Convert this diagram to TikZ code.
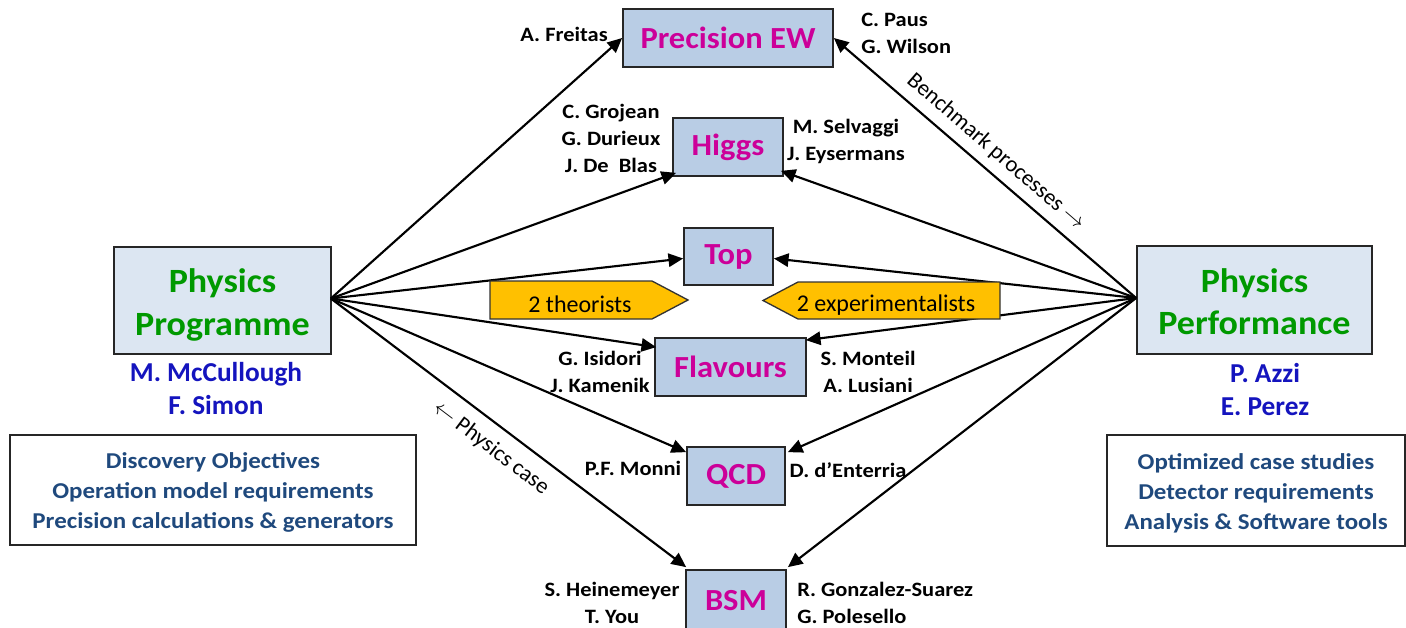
\documentclass[tikz,border=0pt]{standalone}
\usepackage{fontspec}
\setmainfont{Carlito}
\newfontfamily\namefont{Carlito}[FakeStretch=1.1]
\newfontfamily\infofont{Carlito}[FakeStretch=1.1]
\newfontfamily\titlefont{Carlito}[FakeStretch=1.06]
\usetikzlibrary{arrows.meta,calc}

\definecolor{topicfill}{RGB}{185,205,229}
\definecolor{groupfill}{RGB}{220,230,242}
\definecolor{topictext}{RGB}{204,0,153}
\definecolor{grouptext}{RGB}{0,153,0}
\definecolor{leadtext}{RGB}{20,20,190}
\definecolor{infotext}{RGB}{31,73,125}
\definecolor{tagfill}{RGB}{255,192,0}

% centred lines, with a taller first row to set them a little lower in their box
\newcommand{\grouptitle}[2]{\begin{tabular}{@{}c@{}}\rule{0pt}{30pt}#1\\#2\end{tabular}}
\newcommand{\remit}[3]{\begin{tabular}{@{}c@{}}\rule{0pt}{19.5pt}#1\\#2\\#3\end{tabular}}

\tikzset{
  topic/.style={draw=black!85, line width=1.3pt, fill=topicfill, text=topictext,
    font=\titlefont\bfseries\fontsize{23}{28}\selectfont, inner sep=0pt},
  group/.style={draw=black!85, line width=1.3pt, fill=groupfill, text=grouptext,
    font=\titlefont\bfseries\fontsize{25.5}{32}\selectfont, inner sep=0pt},
  person/.style={font=\namefont\bfseries\fontsize{15.3}{20.25}\selectfont, align=center, inner sep=0pt},
  lead/.style={text=leadtext, font=\bfseries\fontsize{20.5}{24.75}\selectfont, align=center, inner sep=0pt},
  info/.style={draw=black!85, line width=1.2pt, fill=white, text=infotext,
    font=\infofont\bfseries\fontsize{17}{22.5}\selectfont, inner sep=0pt},
  flow/.style={-{Triangle[length=11pt,width=10pt]}, line width=1.6pt},
  tag/.style={draw=black!80, line width=1pt, fill=tagfill},
  tagtext/.style={font=\fontsize{18}{22}\selectfont, inner sep=0pt},
  note/.style={font=\fontsize{17}{20}\selectfont, inner sep=0pt}
}

\begin{document}
\begin{tikzpicture}[x=0.75pt, y=-0.75pt]
\useasboundingbox (0,0) rectangle (1406,628);

% working groups
\node[topic, minimum width=157.5pt, minimum height=43.5pt] (ew)    at (728,38)    {Precision EW};
\node[topic, minimum width=82.5pt,  minimum height=43.5pt] (higgs) at (728,147)   {Higgs};
\node[topic, minimum width=66.75pt, minimum height=42.75pt] (top)  at (728.5,256.5) {Top};
\node[topic, minimum width=113.25pt, minimum height=43.5pt] (flav) at (730.5,367) {Flavours};
\node[topic, minimum width=73.5pt,  minimum height=43.5pt] (qcd)   at (736,476)   {QCD};
\node[topic, minimum width=75pt,    minimum height=46.5pt] (bsm)   at (736,601)   {BSM};

% the two coordinating groups
\node[group, minimum width=162.75pt, minimum height=80.25pt] (prog) at (222.5,300.5) {\grouptitle{Physics}{Programme}};
\node[group, minimum width=176.25pt, minimum height=81pt]    (perf) at (1254.5,300) {\grouptitle{Physics}{Performance}};

\coordinate (progout) at ($(prog.east)+(-1,-2)$);
\coordinate (perfout) at ($(perf.west)+(0,-2)$);

% connectors from Physics Programme
\draw[flow] (progout) -- (ew.west);
\draw[flow] (progout) -- ($(higgs.south west)+(4,-4)$);
\draw[flow] (progout) -- ($(top.west)+(0,2)$);
\draw[flow] (progout) -- ($(flav.north west)+(2,10)$);
\draw[flow] (progout) -- ($(qcd.north west)+(0,6)$);
\draw[flow] (progout) -- ($(bsm.north west)+(1,-2)$);

% connectors from Physics Performance
\draw[flow] (perfout) -- (ew.east);
\draw[flow] (perfout) -- ($(higgs.south east)+(-3,-6)$);
\draw[flow] (perfout) -- ($(top.east)+(0,2)$);
\draw[flow] (perfout) -- ($(flav.north east)+(-1,3)$);
\draw[flow] (perfout) -- ($(qcd.north east)+(2,6)$);
\draw[flow] (perfout) -- ($(bsm.north east)+(1,-2)$);

% pointer tags
\draw[tag] (490,281) -- (652,281) -- (688,300) -- (652,319) -- (490,319) -- cycle;
\node[tagtext] (theo) at (580,304) {2 theorists};
\draw[tag] (1000,282) -- (798,282) -- (763,300.5) -- (798,319) -- (1000,319) -- cycle;
\node[tagtext] (expt) at (886,305) {2 experimentalists};

% connector captions
\node[note, rotate=-40.8] (bench) at (996,152) {Benchmark processes $\rightarrow$};
\node[note, rotate=-37.1] (case) at (491,448) {$\leftarrow$ Physics case};

% conveners
\node[person, anchor=east] (n1) at (608,34) {A. Freitas};
\node[person, anchor=west, align=left] (n2) at (861,33) {C. Paus\\G. Wilson};
\node[person] (n3) at (611,138) {C. Grojean\\G. Durieux\\J. De\ \ Blas};
\node[person] (n4) at (846,141) {M. Selvaggi\\J. Eysermans};
\node[person] (n5) at (600,372) {G. Isidori\\J. Kamenik};
\node[person] (n6) at (868,372) {S. Monteil\\A. Lusiani};
\node[person] (n7) at (633,468) {P.F. Monni};
\node[person] (n8) at (848,470) {D. d’Enterria};
\node[person] (n9) at (612,603) {S. Heinemeyer\\T. You};
\node[person, anchor=west, align=left] (n10) at (797,603) {R. Gonzalez-Suarez\\G. Polesello};

\node[lead] (l1) at (216,388.5) {M. McCullough\\F. Simon};
\node[lead] (l2) at (1265,390) {P. Azzi\\E. Perez};

% remits
\node[info, minimum width=304.5pt, minimum height=82.5pt] (i1) at (213,490)
  {\remit{Discovery Objectives}{Operation model requirements}{Precision calculations \& generators}};
\node[info, minimum width=223.5pt, minimum height=83.25pt] (i2) at (1256,490.5)
  {\remit{Optimized case studies}{Detector requirements}{Analysis \& Software tools}};
\end{tikzpicture}
\end{document}
